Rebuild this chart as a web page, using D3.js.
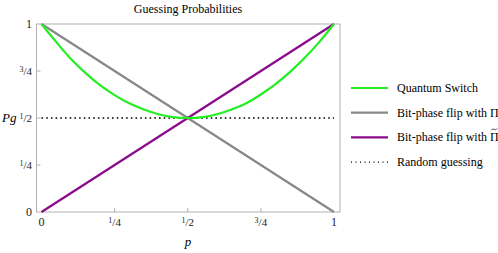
<!DOCTYPE html>
<html>
<head>
<meta charset="utf-8">
<script src="https://cdn.jsdelivr.net/npm/d3@7"></script>
<style>
body { margin: 0; background: #fff; }
</style>
</head>
<body>
<svg id="chart" width="498" height="253" font-family="'Liberation Serif', 'Times New Roman', serif"></svg>
<script>
// values
let p_values = [0, 0.05, 0.1, 0.15, 0.2, 0.25, 0.3, 0.35, 0.4, 0.45, 0.5, 0.55, 0.6, 0.65, 0.7, 0.75, 0.8, 0.85, 0.9, 0.95, 1];
let switch_values = [1, 0.905, 0.815, 0.74, 0.675, 0.622, 0.578, 0.545, 0.52, 0.505, 0.5, 0.505, 0.52, 0.545, 0.578, 0.625, 0.68, 0.745, 0.82, 0.905, 1];
let pi_line = [[0, 1], [1, 0]];
let pi_tilde_line = [[0, 0], [1, 1]];
let random_line = [[0, 0.5], [1, 0.5]];
let tick_values = [0, 0.25, 0.5, 0.75, 1];
let tick_labels = [["0"], ["1", "4"], ["1", "2"], ["3", "4"], ["1"]];
let legend_labels = ["Quantum Switch", "Bit-phase flip with \u03A0", "Bit-phase flip with \u03A0", "Random guessing"];
let series_colors = ["#22ee22", "#888888", "#8b0a8b", "#000000"];

let svg = d3.select("#chart");

let x = d3.scaleLinear().domain([0, 1]).range([41.5, 334]);
let y = d3.scaleLinear().domain([0, 1]).range([212, 24]);

// frame
svg.append("rect")
	.attr("x", 36.5)
	.attr("y", 24)
	.attr("width", 340 - 36.5)
	.attr("height", 212 - 24)
	.attr("fill", "none")
	.attr("stroke", "#b0b0b0")
	.attr("stroke-width", 1);

// small inward ticks
tick_values.slice(1, 4).forEach(function(t) {
	svg.append("line")
		.attr("x1", x(t)).attr("x2", x(t))
		.attr("y1", 212).attr("y2", 208)
		.attr("stroke", "#b0b0b0");
	svg.append("line")
		.attr("x1", 36.5).attr("x2", 40.5)
		.attr("y1", y(t)).attr("y2", y(t))
		.attr("stroke", "#b0b0b0");
});

// fraction-like tick labels
function addLabel(g, parts) {
	if (parts.length == 1) {
		g.append("tspan").attr("font-size", 12).text(parts[0]);
	} else {
		g.append("tspan").attr("font-size", 8).attr("dy", -3).text(parts[0]);
		g.append("tspan").attr("font-size", 11).attr("dy", 3).text("/" + parts[1]);
	}
}

tick_values.forEach(function(t, i) {
	let ty = svg.append("text")
		.attr("x", 32)
		.attr("y", y(t) + 4)
		.attr("text-anchor", "end")
		.attr("fill", "#222");
	addLabel(ty, tick_labels[i]);

	let tx = svg.append("text")
		.attr("x", x(t))
		.attr("y", 226)
		.attr("text-anchor", "middle")
		.attr("fill", "#222");
	addLabel(tx, tick_labels[i]);
});

// axis labels
svg.append("text")
	.attr("x", 2)
	.attr("y", 122)
	.attr("font-size", 13)
	.attr("font-style", "italic")
	.text("Pg");

svg.append("text")
	.attr("x", 188)
	.attr("y", 246)
	.attr("font-size", 13)
	.attr("font-style", "italic")
	.attr("text-anchor", "middle")
	.text("p");

// title
svg.append("text")
	.attr("x", 188)
	.attr("y", 13)
	.attr("font-size", 12)
	.attr("text-anchor", "middle")
	.text("Guessing Probabilities");

let line = d3.line()
	.x(function(d) { return x(d[0]); })
	.y(function(d) { return y(d[1]); });

// random guessing
svg.append("path")
	.attr("d", line(random_line))
	.attr("fill", "none")
	.attr("stroke", series_colors[3])
	.attr("stroke-width", 1.6)
	.attr("stroke-dasharray", "1.6,3.1");

svg.append("path")
	.attr("d", line(pi_line))
	.attr("fill", "none")
	.attr("stroke", series_colors[1])
	.attr("stroke-width", 2.2);

svg.append("path")
	.attr("d", line(pi_tilde_line))
	.attr("fill", "none")
	.attr("stroke", series_colors[2])
	.attr("stroke-width", 2.2);

let switch_line = d3.line()
	.x(function(d) { return x(d[0]); })
	.y(function(d) { return y(d[1]); })
	.curve(d3.curveCatmullRom);

svg.append("path")
	.attr("d", switch_line(d3.zip(p_values, switch_values)))
	.attr("fill", "none")
	.attr("stroke", series_colors[0])
	.attr("stroke-width", 2.2);

// legend
let legend = svg.append("g").attr("transform", "translate(351,88)");
legend_labels.forEach(function(label, i) {
	let row = legend.append("g").attr("transform", "translate(0," + (i * 24.7) + ")");
	row.append("line")
		.attr("x1", 0).attr("x2", 37)
		.attr("y1", 0).attr("y2", 0)
		.attr("stroke", series_colors[i])
		.attr("stroke-width", i == 3 ? 1.2 : 2.2)
		.attr("stroke-dasharray", i == 3 ? "1,3.5" : null);
	let txt = row.append("text")
		.attr("x", 46)
		.attr("y", 4)
		.attr("font-size", 12)
		.text(label);
	if (i == 2) {
		// little tilde drawn over the Pi
		let end = 46 + txt.node().getComputedTextLength();
		let tx0 = end - 7.5, tx1 = end - 1.5;
		row.append("path")
			.attr("d", "M" + tx0 + ",-7 Q" + (tx0 + 1.5) + ",-9.5 " + ((tx0 + tx1) / 2) + ",-8 T" + tx1 + ",-9")
			.attr("fill", "none")
			.attr("stroke", "#222")
			.attr("stroke-width", 0.8);
	}
});
</script>
</body>
</html>
